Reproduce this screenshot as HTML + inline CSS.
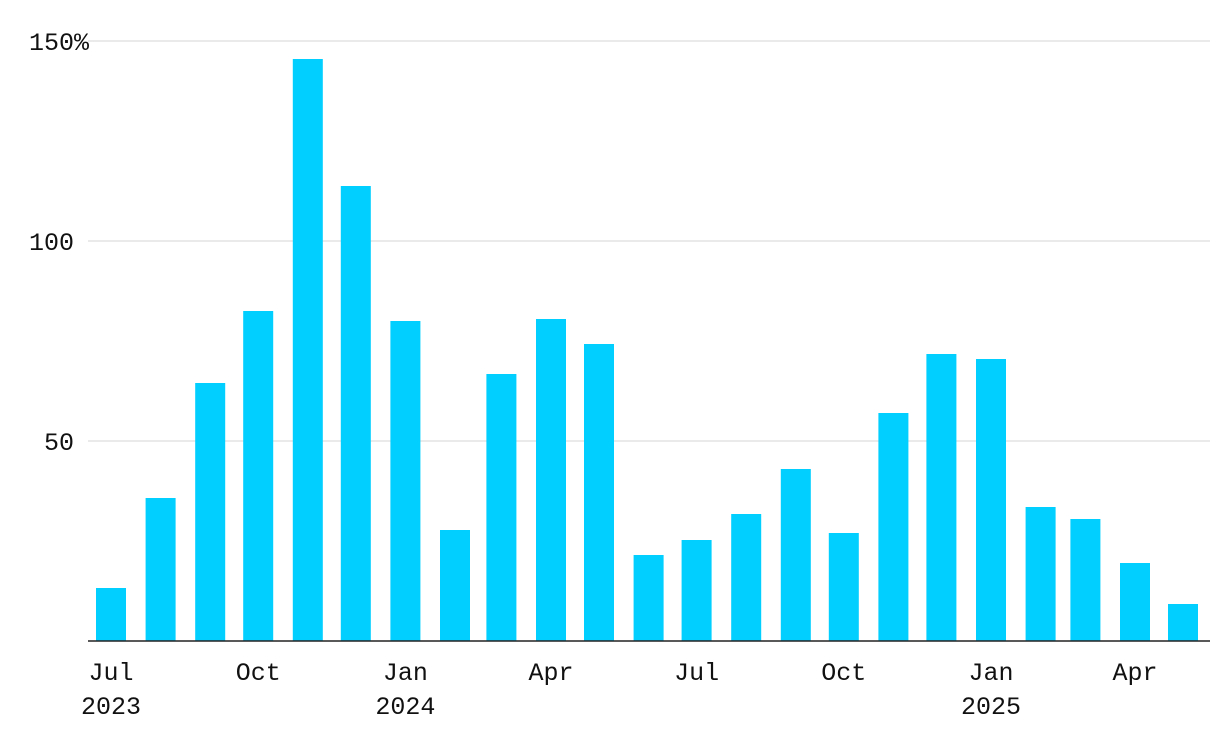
<!DOCTYPE html>
<html><head><meta charset="utf-8"><style>
html,body{margin:0;padding:0;background:#fff;}
svg{display:block;}
text{font-family:"Liberation Mono",monospace;font-size:25px;fill:#111;}
</style></head><body>
<svg id="chart" width="1220" height="744"></svg>
<script>
const months=["2023-07","2023-08","2023-09","2023-10","2023-11","2023-12","2024-01","2024-02","2024-03","2024-04","2024-05","2024-06","2024-07","2024-08","2024-09","2024-10","2024-11","2024-12","2025-01","2025-02","2025-03","2025-04","2025-05"];
const values=[13.25,35.75,64.5,82.5,145.5,113.75,80,27.75,66.75,80.5,74.25,21.5,25.25,31.75,43,27,57,71.75,70.5,33.5,30.5,19.5,9.25];
const yTicks=[0,50,100,150];
const yTickLabels=["","50","100","150"];
const xTickDates=["2023-07","2023-10","2024-01","2024-04","2024-07","2024-10","2025-01","2025-04"];
const xTickLabels=["Jul","Oct","Jan","Apr","Jul","Oct","Jan","Apr"];
const xTickYears=["2023","","2024","","","","2025",""];

const NS="http://www.w3.org/2000/svg";
const svg=document.getElementById("chart");
const t0=Date.UTC(2023,6,1);
function days(s){const [y,m]=s.split("-").map(Number);return (Date.UTC(y,m-1,1)-t0)/86400000;}
function x(s){return 111+days(s)*1.6;}
function y(v){return 641-v*4;}
function el(tag,attrs){const e=document.createElementNS(NS,tag);for(const k in attrs)e.setAttribute(k,attrs[k]);svg.appendChild(e);return e;}

yTicks.forEach((v,i)=>{
  if(v>0){
    const g=el("line",{x1:88,x2:1210,y1:y(v),y2:y(v),stroke:"#e3e3e3","stroke-width":1.5});
    
    
    const t=el("text",{x:74,y:y(v)+9,"text-anchor":"end"});
    t.textContent=yTickLabels[i];
    
    
    if(v===150){const p=el("text",{x:74,y:y(v)+9});p.textContent="%";
      
      }
  }
});
months.forEach((m,i)=>{
  const cx=x(m);
  const r=el("rect",{x:cx-15,y:y(values[i]),width:30,height:641-y(values[i]),fill:"#00cfff"});
  
  
});
const base=el("line",{x1:88,x2:1210,y1:641,y2:641,stroke:"#222","stroke-width":1.5});


xTickDates.forEach((d,i)=>{
  const t=el("text",{x:x(d),y:680,"text-anchor":"middle"});
  t.textContent=xTickLabels[i];
  
  
  if(xTickYears[i]){
    const ty=el("text",{x:x(d),y:714,"text-anchor":"middle"});
    ty.textContent=xTickYears[i];
    
    
  }
});
</script>
</body></html>
